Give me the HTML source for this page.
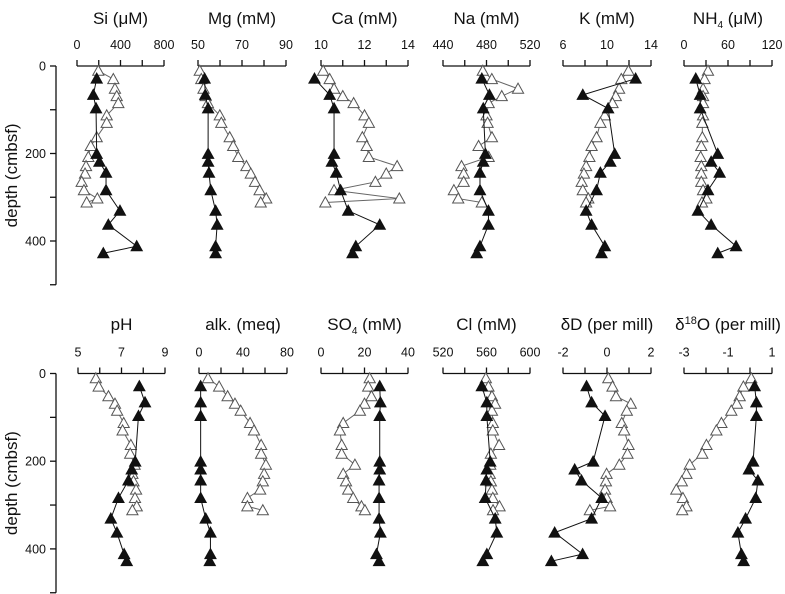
<!DOCTYPE html>
<html><head><meta charset="utf-8"><style>
html,body{margin:0;padding:0;background:#fff}
svg{display:block;font-family:"Liberation Sans",Arial,sans-serif}
</style></head><body>
<svg id="chart" width="785" height="594" viewBox="0 0 785 594" xmlns="http://www.w3.org/2000/svg"></svg>
<script>
const openDepth = [11,30,52,69,85,113,130,163,183,208,229,246,265,284,303,312];
const filledDepth = [29,66,97,201,219,244,284,331,363,412,428];
const depthTicks = [0,100,200,300,400,500];
const depthLabels = ["0","","200","","400",""];

const siOpen = [196,334,349,365,380,273,273,181,126,104,83,74,43,64,187,89];
const siFilled = [181,150,175,181,206,267,267,395,288,549,242];
const mgOpen = [50.8,51.5,52.5,53.5,54.5,59.9,60.6,64.4,66,68.3,72,74,75.9,78,81,78.5];
const mgFilled = [53,53.3,54.6,54.6,54.6,55,55.8,58,58.7,58,58];
const caOpen = [10.1,10.4,10.6,11.0,11.5,12.0,12.2,11.9,12.1,12.2,13.5,13.0,12.5,10.6,13.6,10.2];
const caFilled = [9.7,10.4,10.6,10.6,10.5,10.7,10.9,11.25,12.7,11.6,11.45];
const naOpen = [476.6,484.9,509,494,482,480,481,485,472.7,482,457,459,459,450,454,475.7];
const naFilled = [475.7,482.7,477,479,477,474,474,481.8,481.8,474,471];
const kOpen = [11.95,11.3,11.1,10.8,10.5,9.8,9.4,9.05,8.6,8.4,8.1,7.9,7.7,7.8,8.3,8.1];
const kFilled = [12.6,7.8,10.1,10.7,10.3,9.4,9.05,8.1,8.6,9.8,9.5];
const nh4Open = [32.7,28,26,26,26,26,25,25,23.6,22.7,23.6,23.6,23.6,26,30.5,24.5];
const nh4Filled = [16,22,22,46,37,48.6,32.7,19,37,71,46];
const phOpen = [5.82,5.95,6.4,6.7,6.8,7.1,7.05,7.43,7.4,7.6,7.5,7.55,7.67,7.62,7.7,7.5];
const phFilled = [7.82,8.08,7.78,7.63,7.47,7.32,6.86,6.51,6.79,7.12,7.24];
const alkOpen = [8.2,18.3,26,32.7,37.9,46.4,50,56.5,56.5,60.8,59.2,58,55.6,44,44,58];
const alkFilled = [1.5,1.5,1.5,1.5,1.5,1.5,1.5,6.1,10.4,10.4,9.8];
const so4Open = [22.4,21.7,23.2,20,17.9,10.2,8.7,9.5,9.5,15.6,10.2,11.5,12.5,14.8,18.6,20.2];
const so4Filled = [27,27.3,27,27,27,26.7,26.7,26.7,27.3,25.5,26.7];
const clOpen = [559.4,561.8,565,567.9,565,565.8,565.8,571.6,564,563.4,563,564,565,565.8,572,566];
const clFilled = [555.7,560.3,560.3,563.4,560.3,559.7,558.8,568,569.5,560.3,556.6];
const dDOpen = [0.06,0.25,0.41,1.08,0.9,0.67,0.78,0.98,0.93,0.56,-0.02,-0.05,-0.09,-0.02,0.14,-0.78];
const dDFilled = [-0.93,-0.7,-0.09,-0.63,-1.47,-1.16,-0.24,-0.7,-2.38,-1.11,-2.53];
const d18OOpen = [0.06,-0.3,-0.47,-0.6,-0.85,-1.3,-1.53,-1.98,-2.17,-2.74,-2.89,-3.1,-3.35,-3.05,-2.89,-3.08];
const d18OFilled = [0.21,0.29,0.29,0.14,-0.05,0.36,0.26,-0.2,-0.55,-0.39,-0.29];

const siTicks=["0","400","800"], mgTicks=["50","70","90"], caTicks=["10","12","14"], naTicks=["440","480","520"],
kTicks=["6","10","14"], nh4Ticks=["0","60","120"], phTicks=["5","7","9"], alkTicks=["0","40","80"],
so4Ticks=["0","20","40"], clTicks=["520","560","600"], dDTicks=["-2","0","2"], d18OTicks=["-3","-1","1"];

const NS="http://www.w3.org/2000/svg";
const svg=document.getElementById('chart');
function mk(tag,attrs,parent){const e=document.createElementNS(NS,tag);for(const k in attrs)e.setAttribute(k,attrs[k]);(parent||svg).appendChild(e);return e;}

const rows=[{y0:66,scale:0.4375,name:'top'},{y0:373.5,scale:0.4385,name:'bottom'}];
function yScale(row,d){return rows[row].y0+d*rows[row].scale;}

const panels=[
 {id:'si',t:'Si (',sub:null,sup:null,t2:'μM)',row:0,x0:77,x1:164,min:0,max:800,ticks:siTicks,o:siOpen,f:siFilled},
 {id:'mg',t:'Mg (mM)',row:0,x0:198,x1:286,min:50,max:90,ticks:mgTicks,o:mgOpen,f:mgFilled},
 {id:'ca',t:'Ca (mM)',row:0,x0:321,x1:408,min:10,max:14,ticks:caTicks,o:caOpen,f:caFilled},
 {id:'na',t:'Na (mM)',row:0,x0:443,x1:530,min:440,max:520,ticks:naTicks,o:naOpen,f:naFilled},
 {id:'k',t:'K (mM)',row:0,x0:563,x1:651,min:6,max:14,ticks:kTicks,o:kOpen,f:kFilled},
 {id:'nh4',t:'NH',sub:'4',t2:' (μM)',row:0,x0:684,x1:772,min:0,max:120,ticks:nh4Ticks,o:nh4Open,f:nh4Filled},
 {id:'ph',t:'pH',row:1,x0:78,x1:165,min:5,max:9,ticks:phTicks,o:phOpen,f:phFilled},
 {id:'alk',t:'alk. (meq)',row:1,x0:199,x1:287,min:0,max:80,ticks:alkTicks,o:alkOpen,f:alkFilled},
 {id:'so4',t:'SO',sub:'4',t2:' (mM)',row:1,x0:321,x1:408,min:0,max:40,ticks:so4Ticks,o:so4Open,f:so4Filled},
 {id:'cl',t:'Cl (mM)',row:1,x0:443,x1:530,min:520,max:600,ticks:clTicks,o:clOpen,f:clFilled},
 {id:'dd',t:'δD (per mill)',row:1,x0:563,x1:651,min:-2,max:2,ticks:dDTicks,o:dDOpen,f:dDFilled},
 {id:'d18o',t:'δ',sup:'18',t2:'O (per mill)',row:1,x0:684,x1:772,min:-3,max:1,ticks:d18OTicks,o:d18OOpen,f:d18OFilled}
];

// depth axes
rows.forEach((r,ri)=>{
  const g=mk('g',{});
  
  
  mk('line',{x1:56,x2:56,y1:yScale(ri,0),y2:yScale(ri,500),stroke:'#111','stroke-width':1.3},g);
  depthTicks.forEach((d,i)=>{
    const y=yScale(ri,d);
    mk('line',{x1:50,x2:56,y1:y,y2:y,stroke:'#111','stroke-width':1.3},g);
    if(depthLabels[i]){const t=mk('text',{x:46,y:y+4.5,'text-anchor':'end','font-size':12.5,fill:'#111'},g);t.textContent=depthLabels[i];}
  });
  const cy=(yScale(ri,0)+yScale(ri,500))/2;
  const tt=mk('text',{x:0,y:0,transform:'translate(17,'+cy+') rotate(-90)','text-anchor':'middle','font-size':17,fill:'#111'},g);
  
  
  tt.textContent='depth (cmbsf)';
});

function tri(g,x,y,filled,name){
  const s=5.6;
  const p=mk('polygon',{points:(x)+','+(y-s)+' '+(x-s)+','+(y+s*0.8)+' '+(x+s)+','+(y+s*0.8),fill:filled?'#111':'#fff',stroke:filled?'#111':'#555','stroke-width':1},g);
  
  
}

panels.forEach(p=>{
  const g=mk('g',{});
  
  
  const xs=v=>p.x0+(v-p.min)/(p.max-p.min)*(p.x1-p.x0);
  const y0=yScale(p.row,0);
  const cx=(p.x0+p.x1)/2;
  // title
  const ty=p.row===0?24:330;
  const title=mk('text',{x:cx,y:ty,'text-anchor':'middle','font-size':17,fill:'#111'},g);
  
  
  if(p.id==='si'){title.textContent='Si (μM)';}
  else if(p.sub){const a=mk('tspan',{},title);a.textContent=p.t;const b=mk('tspan',{'font-size':10,dy:4},title);b.textContent=p.sub;const c=mk('tspan',{dy:-4},title);c.textContent=p.t2;}
  else if(p.sup){const a=mk('tspan',{},title);a.textContent=p.t;const b=mk('tspan',{'font-size':11,dy:-6},title);b.textContent=p.sup;const c=mk('tspan',{dy:6},title);c.textContent=p.t2;}
  else title.textContent=p.t;
  // axis
  const ax=mk('g',{},g);
  
  
  mk('line',{x1:p.x0,x2:p.x1,y1:y0,y2:y0,stroke:'#111','stroke-width':1.3},ax);
  for(let i=0;i<=4;i++){const x=p.x0+i*(p.x1-p.x0)/4;mk('line',{x1:x,x2:x,y1:y0,y2:y0-6,stroke:'#111','stroke-width':1.3},ax);}
  p.ticks.forEach((lab,i)=>{const x=p.x0+i*(p.x1-p.x0)/2;const t=mk('text',{x:x,y:y0-17,'text-anchor':'middle','font-size':12.5,fill:'#111'},ax);t.textContent=lab;});
  // open series
  const og=mk('g',{},g);
  
  
  mk('polyline',{points:p.o.map((v,i)=>xs(v)+','+yScale(p.row,openDepth[i])).join(' '),fill:'none',stroke:'#666','stroke-width':1},og);
  p.o.forEach((v,i)=>tri(og,xs(v),yScale(p.row,openDepth[i]),false,p.id+'-open-point'));
  // filled series
  const fg=mk('g',{},g);
  
  
  mk('polyline',{points:p.f.map((v,i)=>xs(v)+','+yScale(p.row,filledDepth[i])).join(' '),fill:'none',stroke:'#111','stroke-width':1},fg);
  p.f.forEach((v,i)=>tri(fg,xs(v),yScale(p.row,filledDepth[i]),true,p.id+'-filled-point'));
});
</script>
</body></html>
